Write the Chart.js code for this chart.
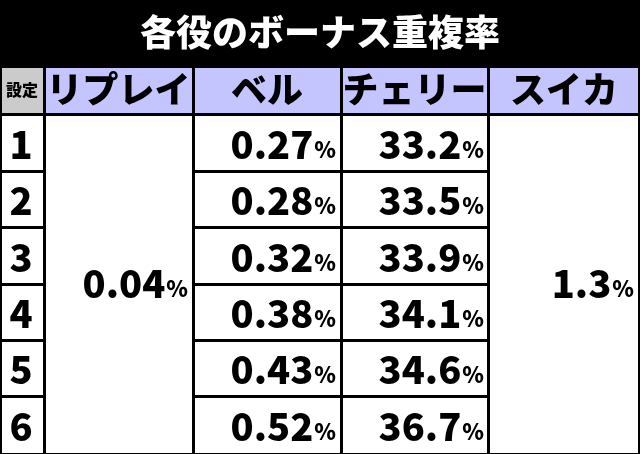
<!DOCTYPE html>
<html><head><meta charset="utf-8">
<script src="https://cdn.jsdelivr.net/npm/chart.js@4"></script>
<style>body{margin:0;background:#000}#wrap{width:640px;height:454px}</style>
</head><body><div id="wrap"><canvas id="plot"></canvas></div>
<script>
const title = '各役のボーナス重複率';
const headers = ['設定', 'リプレイ', 'ベル', 'チェリー', 'スイカ'];
const settings = ['1', '2', '3', '4', '5', '6'];
const replay = '0.04';
const bell = ['0.27', '0.28', '0.32', '0.38', '0.43', '0.52'];
const cherry = ['33.2', '33.5', '33.9', '34.1', '34.6', '36.7'];
const suika = '1.3';

// layout (pixels in 640x454 space)
const colX = [0, 44, 193, 341, 488, 640];
const rowY = [66, 114, 171, 227, 284, 340, 396, 454];
const FONT = '"Noto Sans CJK JP", "Noto Sans", sans-serif';
const W = 900;

function pct(ctx, val, xr, yc, big) {
  ctx.textBaseline = 'middle';
  ctx.textAlign = 'right';
  ctx.font = `${W} 22px ${FONT}`;
  const pw = ctx.measureText('%').width;
  ctx.fillText('%', xr, yc + 5);
  ctx.font = `${W} ${big}px ${FONT}`;
  ctx.fillText(val, xr - pw - 1, yc);
}

const tablePlugin = {
  id: 'table',
  afterDraw(chart) {
    const ctx = chart.ctx, sx = chart.scales.x, sy = chart.scales.y;
    const X = v => sx.getPixelForValue(v), Y = v => sy.getPixelForValue(v);
    ctx.save();
    ctx.fillStyle = '#000';
    ctx.fillRect(X(0), Y(0), X(640) - X(0), Y(454) - Y(0));
    ctx.fillStyle = '#fff';
    ctx.font = `${W} 36px ${FONT}`;
    ctx.textAlign = 'center'; ctx.textBaseline = 'middle';
    ctx.fillText(title, X(320), Y(32));
    const g = 2;
    const cell = (c0, c1, r0, r1, fill) => {
      ctx.fillStyle = fill;
      ctx.fillRect(X(colX[c0]) + g, Y(rowY[r0]) + g, X(colX[c1]) - X(colX[c0]) - g * 2 + (c1 === 5 ? 0 : 1), Y(rowY[r1]) - Y(rowY[r0]) - g * 2 + 1);
    };
    cell(0, 1, 0, 1, '#cbcbcb');
    for (let c = 1; c < 5; c++) cell(c, c + 1, 0, 1, '#c4c4ff');
    ctx.fillStyle = '#000';
    ctx.font = `${W} 16px ${FONT}`;
    ctx.fillText(headers[0], X(22), Y(90));
    ctx.font = `${W} 36px ${FONT}`;
    for (let c = 1; c < 5; c++) ctx.fillText(headers[c], X((colX[c] + colX[c + 1]) / 2), Y(89));
    cell(1, 2, 1, 7, '#fff');
    cell(4, 5, 1, 7, '#fff');
    for (let r = 0; r < settings.length; r++) {
      cell(0, 1, r + 1, r + 2, '#fff');
      cell(2, 3, r + 1, r + 2, '#fff');
      cell(3, 4, r + 1, r + 2, '#fff');
      const yc = Y((rowY[r + 1] + rowY[r + 2]) / 2) + 2;
      ctx.fillStyle = '#000';
      ctx.textAlign = 'center';
      ctx.font = `${W} 38px ${FONT}`;
      ctx.fillText(settings[r], X(21), yc);
      pct(ctx, bell[r], X(336), yc, 38);
      pct(ctx, cherry[r], X(484), yc, 38);
    }
    const ym = Y((rowY[1] + rowY[7]) / 2);
    pct(ctx, replay, X(188), ym, 38);
    pct(ctx, suika, X(634), ym, 38);
    ctx.restore();
  }
};

new Chart(document.getElementById('plot'), {
  type: 'scatter',
  data: { datasets: [] },
  options: {
    responsive: true, maintainAspectRatio: false, animation: false,
    layout: { padding: 0 },
    plugins: { legend: { display: false }, tooltip: { enabled: false } },
    scales: {
      x: { type: 'linear', min: 0, max: 640, display: false },
      y: { type: 'linear', min: 0, max: 454, reverse: true, display: false }
    }
  },
  plugins: [tablePlugin]
});
</script></body></html>
